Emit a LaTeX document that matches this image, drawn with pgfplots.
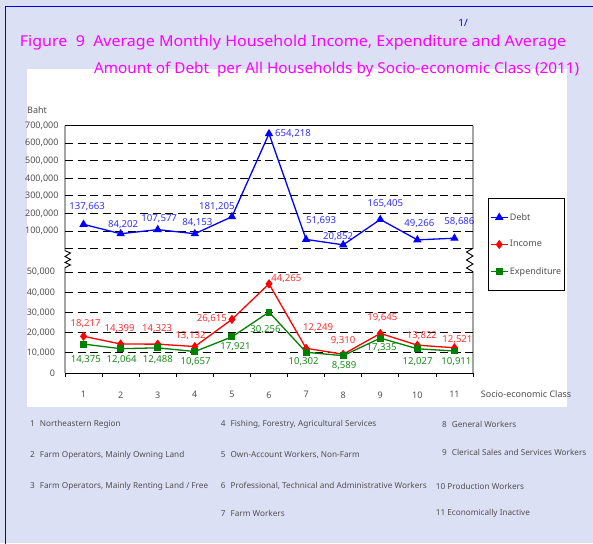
\documentclass[border=0pt]{standalone}
\usepackage{pgfplots}
\pgfplotsset{compat=1.18}
\usepackage{pgfplotstable}
\usepackage{fontspec}
\setmainfont{Noto Sans}
\definecolor{bg}{RGB}{219,224,245}
\definecolor{frame}{RGB}{0,0,230}
\definecolor{ttl}{RGB}{255,0,255}
\definecolor{tick}{RGB}{80,80,80}
\definecolor{dlab}{RGB}{50,50,255}
\definecolor{ilab}{RGB}{255,50,50}
\definecolor{elab}{RGB}{30,140,30}
\definecolor{eline}{RGB}{0,128,0}

\pgfplotstableread{
x y dx dy lab
1 137663 3.5 17.5 137,663
2 84202 2.5 9 84,202
3 107577 1.5 11 107,577
4 84153 2.5 11 84,153
5 181205 -15 10 181,205
6 654218 24 0 654,218
7 51693 15 19 51,693
8 20852 -5 8 20,852
9 165405 5 16 165,405
10 49266 2 16 49,266
11 58686 5 17 58,686
}\debt

\pgfplotstableread{
x y dx dy lab
1 18217 2 13 18,217
2 14399 -1 15.3 14,399
3 14323 -0.6 15.5 14,323
4 13132 -4.3 10.6 13,132
5 26615 -20 0.4 26,615
6 44265 17.4 5.6 44,265
7 12249 12 20.6 12,249
8 9310 0 13.3 9,310
9 19645 2 15.7 19,645
10 13822 4.6 10 13,822
11 12521 3 8.5 12,521
}\income

\pgfplotstableread{
x y dx dy lab
1 14375 2.4 -16 14,375
2 12064 1 -11.3 12,064
3 12488 0.2 -12.2 12,488
4 10657 0.8 -10.2 10,657
5 17921 3.6 -9.8 17,921
6 30256 -3.5 -17.2 30,256
7 10302 -2.4 -9.4 10,302
8 8589 1 -10 8,589
9 17335 1.3 -9.6 17,335
10 12027 0.3 -12.9 12,027
11 10911 2 -10.7 10,911
}\expend

\pgfplotsset{
  myax/.style={scale only axis, width=408pt, xmin=0.5, xmax=11.5,
    axis line style={draw=none}, scaled y ticks=false,
    ticklabel style={font=\fontsize{9}{10}\selectfont, text=tick},
    ymajorgrids, grid style={black, line width=0.8pt, dash pattern=on 8pt off 4.5pt},
    clip=false, /pgf/number format/assume math mode=true,
    ytick style={draw=none}, tick pos=left},
  labs/.style={nodes near coords, point meta=explicit symbolic,
    visualization depends on={\thisrow{dx} \as \dx},
    visualization depends on={\thisrow{dy} \as \dy},
    every node near coord/.append style={anchor=center, inner sep=0pt,
      xshift=\dx*1pt, yshift=\dy*1pt, font=\fontsize{9.6}{11}\selectfont, text=#1}},
}

\begin{document}
\begin{tikzpicture}
\begin{scope}[x=1pt,y=1pt]
\useasboundingbox (0,0) rectangle (593,543);
\fill[bg] (0,0) rectangle (593,543);
\draw[frame, line width=1pt] (5,536) rectangle (640,-40);
\fill[white] (26.5,474) rectangle (567,136);
\node[anchor=base west, inner sep=0pt, text=ttl, font=\fontsize{15}{17}\selectfont] at (19.7,496.3)
  {\scalebox{1.068}[1]{Figure\ \ 9\ \ Average Monthly Household Income, Expenditure and Average}};
\node[anchor=base west, inner sep=0pt, text=ttl, font=\fontsize{15}{17}\selectfont] at (93.8,469.7)
  {\scalebox{1.021}[1]{Amount of Debt\ \ per All Households by Socio-economic Class (2011)}};
\node[anchor=center, inner sep=0pt, text=frame, font=\fontsize{10}{12}\selectfont] at (463,520) {1/};
\node[anchor=west, inner sep=0pt, text=tick, font=\fontsize{9}{10}\selectfont] at (27,433) {Baht};
\node[anchor=west, inner sep=0pt, text=tick, font=\fontsize{9}{10}\selectfont] at (480.7,149) {Socio-economic Class};
\begin{scope}[every node/.style={anchor=west, inner sep=0pt, text=tick, font=\fontsize{8.2}{9}\selectfont}]
\node at (30,118.7) {1\hspace{5pt}Northeastern Region};
\node at (30,88) {2\hspace{5pt}Farm Operators, Mainly Owning Land};
\node at (30,57) {3\hspace{5pt}Farm Operators, Mainly Renting Land / Free};
\node at (220.7,118.7) {4\hspace{5pt}Fishing, Forestry, Agricultural Services};
\node at (220.7,88) {5\hspace{5pt}Own-Account Workers, Non-Farm};
\node at (220.7,57) {6\hspace{5pt}Professional, Technical and Administrative Workers};
\node at (220.7,29.7) {7\hspace{5pt}Farm Workers};
\node at (442,118.7) {8\hspace{5pt}General Workers};
\node at (442,90.3) {9\hspace{5pt}Clerical Sales and Services Workers};
\node at (435.7,57) {10 Production Workers};
\node at (435.7,29.7) {11 Economically Inactive};
\end{scope}
\end{scope}

% upper axis: debt
\begin{axis}[myax, at={(65pt,294.5pt)}, anchor=south west, height=122.8pt,
  ymin=0, ymax=700000,
  ytick={0,100000,200000,300000,400000,500000,600000,700000},
  yticklabels={,{100,000},{200,000},{300,000},{400,000},{500,000},{600,000},{700,000}},
  yticklabel style={xshift=-3pt},
  xtick=\empty]
\addplot[blue, line width=1.3pt, mark=triangle*, mark size=3.6pt, mark options={solid}, labs=dlab]
  table[x=x, y=y, meta=lab] {\debt};
\end{axis}

% lower axis: income and expenditure
\begin{axis}[myax, at={(65pt,170pt)}, anchor=south west, height=100.7pt,
  ymin=0, ymax=50000,
  ytick={0,10000,20000,30000,40000,50000},
  yticklabels={0,{10,000},{20,000},{30,000},{40,000},{50,000}},
  yticklabel style={xshift=-6.5pt},
  xtick={1,2,3,4,5,6,7,8,9,10,11},
  xticklabels={1,2,3,4,5,6,7,8,9,10,11},
  xticklabel style={yshift=-15pt},
  minor xtick={0.5,1.5,2.5,3.5,4.5,5.5,6.5,7.5,8.5,9.5,10.5,11.5},
  tick align=outside, major tick length=0pt, minor tick length=4pt,
  minor tick style={black, line width=0.8pt},
  legend style={at={(1.036,1.735)}, anchor=north west, draw=black, line width=0.8pt,
    fill=white, font=\fontsize{9}{10}\selectfont, text=tick,
    row sep=16pt, inner xsep=2pt, inner ysep=13pt,
    nodes={inner sep=1.5pt},
    /tikz/every even column/.append style={column sep=3pt}},
  legend cell align=left]
\addlegendimage{blue, line width=1.3pt, mark=triangle*, mark size=3.6pt, mark options={solid}}
\addlegendentry{Debt}
\addplot[red, line width=1.3pt, mark=diamond*, mark size=3.6pt, mark options={solid}, labs=ilab]
  table[x=x, y=y, meta=lab] {\income};
\addlegendentry{Income}
\addplot[eline, line width=1.3pt, mark=square*, mark size=2.8pt, mark options={solid}, labs=elab]
  table[x=x, y=y, meta=lab] {\expend};
\addlegendentry{Expenditure}
\end{axis}

\begin{scope}[x=1pt,y=1pt]
\draw[black, line width=0.9pt] (65,417.3) -- (473,417.3);
\draw[black, line width=0.9pt, line join=miter] (65,417.3) -- (65,292.3) -- (70.5,290) -- (65,286.5) -- (70.5,283.5) -- (65,280.5) -- (70.5,278) -- (65,275.3) -- (65,170);
\draw[black, line width=0.9pt, line join=miter] (473,417.3) -- (473,294.7) -- (466.5,291) -- (473,287) -- (466.5,283) -- (473,279) -- (466.5,275) -- (473,271.3) -- (473,170);
\draw[black, line width=0.9pt] (65,170) -- (473,170);
\end{scope}
\end{tikzpicture}
\end{document}
